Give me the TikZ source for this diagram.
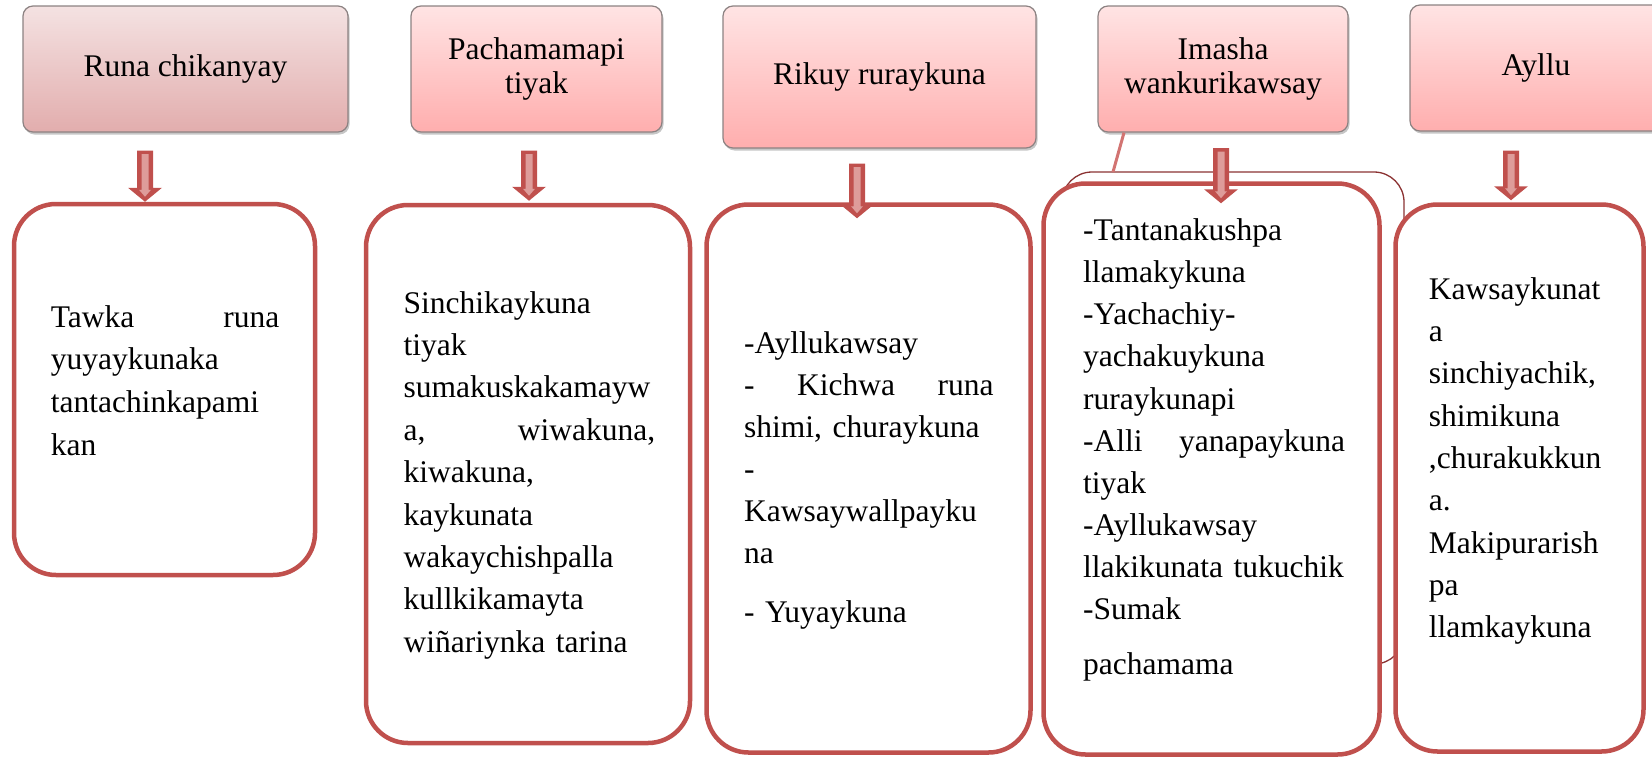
\documentclass[tikz,border=0pt]{standalone}
\usepackage{fontspec}
\setmainfont{Liberation Serif}
\usetikzlibrary{calc,shadows}

\definecolor{boxred}{HTML}{C0504D}
\definecolor{arrowlight}{HTML}{DE9C9A}
\definecolor{framegray}{HTML}{8C8282}
\definecolor{darkframe}{HTML}{8B3232}
\definecolor{strayline}{HTML}{D27472}
\definecolor{roseA}{HTML}{F4E2E2}
\definecolor{roseB}{HTML}{E2ADAD}
\definecolor{pinkA}{HTML}{FFE4E4}
\definecolor{pinkB}{HTML}{FFAEAE}

% hollow-looking block arrow pointing down, from coordinate #1 (top of shaft) to #2 (tip)
\newcommand\downblock[2]{%
  \fill[boxred] ($(#1)+(-8,0)$) -- ($(#1)+(8,0)$) -- ($(#2)+(8,-14)$) -- ($(#2)+(17,-14)$)
    -- (#2) -- ($(#2)+(-17,-14)$) -- ($(#2)+(-8,-14)$) -- cycle;
  \fill[arrowlight] ($(#1)+(-3.5,3.5)$) -- ($(#1)+(3.5,3.5)$) -- ($(#2)+(3.5,-12)$)
    -- ($(#2)+(6,-12)$) -- ($(#2)+(0,-5)$) -- ($(#2)+(-6,-12)$) -- ($(#2)+(-3.5,-12)$) -- cycle;
}

\begin{document}
\begin{tikzpicture}[x=1pt,y=-1pt,
  headbox/.style={draw=framegray, line width=1.2pt, rounded corners=10pt,
    top color=pinkA, bottom color=pinkB,
    drop shadow={shadow xshift=1.5pt, shadow yshift=-2.5pt, opacity=0.45},
    align=center, inner sep=0pt, font=\fontsize{31.5}{34}\selectfont},
  rosebox/.style={headbox, top color=roseA, bottom color=roseB},
  bodybox/.style={draw=boxred, line width=4.5pt, rounded corners=42pt, fill=white, inner sep=0pt},
  bodytext/.style={anchor=north west, inner sep=0pt, align=left},
  backframe/.style={draw=darkframe, line width=1.3pt, rounded corners=30pt, inner sep=0pt},
]
\useasboundingbox (0,0) rectangle (1652,758);

% headings
\node[rosebox, minimum width=325pt, minimum height=126pt] (t1) at (185.5,69) {Runa chikanyay};
\node[headbox, minimum width=251pt, minimum height=126pt] (t2) at (536.5,69) {Pachamamapi\\tiyak};
\node[headbox, minimum width=313pt, minimum height=142pt] (t3) at (879.5,77) {Rikuy ruraykuna};
\node[headbox, minimum width=250pt, minimum height=126pt] (t4) at (1223,69) {Imasha\\wankurikawsay};
\node[headbox, minimum width=252pt, minimum height=126pt] (t5) at (1536,68) {Ayllu};

% frame lying behind the fourth column
\node[backframe, minimum width=342pt, minimum height=492pt] (back4) at (1233,418) {};
\coordinate (s4) at (1113,172);
\draw[strayline, line width=3pt] ([xshift=-99pt]t4.south) -- (s4);

% content boxes
\node[bodybox, minimum width=301pt, minimum height=371pt] (b1) at (164.5,389.5) {};
\node[bodybox, minimum width=324pt, minimum height=538pt] (b2) at (528,474) {};
\node[bodybox, minimum width=324pt, minimum height=548pt] (b3) at (868.5,478.5) {};
\node[bodybox, minimum width=336pt, minimum height=571pt] (b4) at (1211.5,469) {};
\node[bodybox, minimum width=248pt, minimum height=547pt] (b5) at (1519.5,478) {};

% texts
\node[bodytext, text width=228.5pt, font=\fontsize{31.5}{42.7}\selectfont] (x1) at (50.6,297.1)
  {\strut Tawka\hfill runa\\yuyaykunaka\\tantachinkapami\\kan};
\node[bodytext, text width=251.5pt, font=\fontsize{31.5}{42.4}\selectfont] (x2) at (403.5,283.3)
  {\strut Sinchikaykuna\\tiyak\\sumakuskakamayw\\a,\hfill wiwakuna,\\kiwakuna,\\kaykunata\\wakaychishpalla\\kullkikamayta\\wiñariynka tarina};
\node[bodytext, text width=249.5pt, font=\fontsize{31.5}{42}\selectfont] (x3) at (744,323.6)
  {\strut -Ayllukawsay\\-\hfill Kichwa\hfill runa\\shimi, churaykuna\\-\\Kawsaywallpayku\\na\\[17pt]- Yuyaykuna};
\node[bodytext, text width=262pt, font=\fontsize{31.5}{42.1}\selectfont] (x4) at (1083,211)
  {\strut -Tantanakushpa\\llamakykuna\\-Yachachiy-\\yachakuykuna\\ruraykunapi\\-Alli\hfill yanapaykuna\\tiyak\\-Ayllukawsay\\llakikunata tukuchik\\-Sumak\\[13pt]pachamama};
\node[bodytext, text width=210pt, font=\fontsize{31.5}{42.3}\selectfont] (x5) at (1428.7,269.4)
  {\strut Kawsaykunat\\a\\sinchiyachik,\\shimikuna\\,churakukkun\\a.\\Makipurarish\\pa\\llamkaykuna};

% arrows from headings to boxes
\coordinate (a1s) at ([xshift=-40.5pt,yshift=-18pt]t1.south);
\coordinate (a1e) at ([xshift=-19.5pt]b1.north);
\coordinate (a2s) at ([xshift=-7.5pt,yshift=-18pt]t2.south);
\coordinate (a2e) at ([xshift=1pt,yshift=2pt]b2.north);
\coordinate (a3s) at ([xshift=-22.5pt,yshift=-15pt]t3.south);
\coordinate (a3e) at ([xshift=-11.5pt,yshift=-16pt]b3.north);
\coordinate (a4s) at ([xshift=-2pt,yshift=-15.5pt]t4.south);
\coordinate (a4e) at ([xshift=9.5pt,yshift=-22pt]b4.north);
\coordinate (a5s) at ([xshift=-25pt,yshift=-19pt]t5.south);
\coordinate (a5e) at ([xshift=-8.5pt,yshift=2pt]b5.north);
\downblock{a1s}{a1e}
\downblock{a2s}{a2e}
\downblock{a3s}{a3e}
\downblock{a4s}{a4e}
\downblock{a5s}{a5e}
\end{tikzpicture}
\end{document}
